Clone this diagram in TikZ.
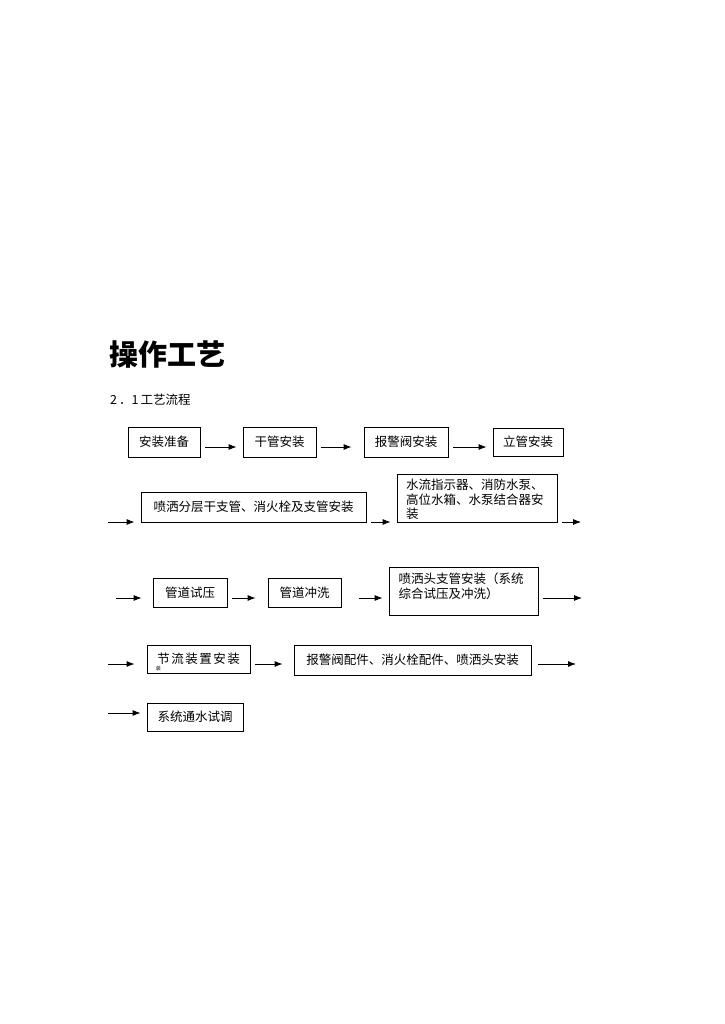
\documentclass[tikz,border=0pt]{standalone}
\usepackage{fontspec}
\newfontfamily\cjk{Noto Sans CJK SC}
\usetikzlibrary{arrows.meta}

\tikzset{
  box/.style = {draw, line width=0.8pt, inner sep=0pt,
                font=\cjk\fontsize{12.5}{14.5}\selectfont},
  flow/.style = {-{Latex[length=8pt,width=6pt]}, line width=0.8pt,
                 shorten <=5pt, shorten >=6pt},
}

\begin{document}
\begin{tikzpicture}[x=1pt, y=-1pt]

\useasboundingbox (0,0) rectangle (724,1024);

\node[anchor=west, font=\cjk\bfseries\fontsize{29}{32}\selectfont, inner sep=0pt]
    (title) at (109,355) {操作工艺};
\node[anchor=west, font=\cjk\fontsize{12.5}{14}\selectfont, inner sep=0pt]
    (sub) at (110,400) {2\,．1\,工艺流程};

% row 1
\coordinate (r1) at (0,447);
\node[box, minimum width=72, minimum height=30] (s1) at (164,442) {安装准备};
\node[box, minimum width=73, minimum height=30] (s2) at (279.5,442) {干管安装};
\node[box, minimum width=84, minimum height=30] (s3) at (406,442) {报警阀安装};
\node[box, minimum width=70, minimum height=28] (s4) at (528,442) {立管安装};
\draw[flow] (s1.east |- r1) -- (s2.west |- r1);
\draw[flow, shorten >=12pt] (s2.east |- r1) -- (s3.west |- r1);
\draw[flow] (s3.east |- r1) -- (s4.west |- r1);

% row 2
\coordinate (r2) at (0,522);
\coordinate (in2) at (108,522);
\coordinate (out2) at (581,522);
\node[box, minimum width=225, minimum height=30] (s5) at (253.5,507)
    {喷洒分层干支管、消火栓及支管安装};
\node[box, minimum width=160, minimum height=48, text width=142, align=left]
    (s6) at (477,498) {\rule{0pt}{14pt}水流指示器、消防水泵、\\高位水箱、水泵结合器安\\装};
\draw[flow, shorten <=0pt] (in2) -- (s5.west |- r2);
\draw[flow] (s5.east |- r2) -- (s6.west |- r2);
\draw[flow, shorten >=0pt] (s6.east |- r2) -- (out2);

% row 3
\coordinate (r3) at (0,598);
\coordinate (in3) at (116,598);
\coordinate (out3) at (582,598);
\node[box, minimum width=74, minimum height=29] (s7) at (190,592.5) {管道试压};
\node[box, minimum width=73, minimum height=29] (s8) at (304.5,592.5) {管道冲洗};
\node[box, minimum width=149, minimum height=48, text width=130, align=left]
    (s9) at (463.5,591) {喷洒头支管安装（系统\\综合试压及冲洗）\\[-8pt] \strut};
\draw[flow, shorten <=0pt, shorten >=11pt] (in3) -- (s7.west |- r3);
\draw[flow, shorten >=12pt] (s7.east |- r3) -- (s8.west |- r3);
\draw[flow, shorten <=18pt] (s8.east |- r3) -- (s9.west |- r3);
\draw[flow, shorten >=0pt] (s9.east |- r3) -- (out3);

% row 4
\coordinate (r4) at (0,664);
\coordinate (in4) at (108,664);
\coordinate (out4) at (576,664);
\node[box, minimum width=103, minimum height=28] (s10) at (198.5,659)
    {\addfontfeature{LetterSpace=12}节流装置安装};
\node[anchor=west, font=\cjk\fontsize{5}{5}\selectfont, inner sep=0pt]
    (s10note) at ([shift={(9,-5)}]s10.south west) {装};
\node[box, minimum width=237, minimum height=30] (s11) at (412.5,660)
    {报警阀配件、消火栓配件、喷洒头安装};
\draw[flow, shorten <=0pt, shorten >=12pt] (in4) -- (s10.west |- r4);
\draw[flow, shorten >=11pt] (s10.east |- r4) -- (s11.west |- r4);
\draw[flow, shorten >=0pt, shorten <=7pt] (s11.east |- r4) -- (out4);

% row 5
\coordinate (r5) at (0,713);
\coordinate (in5) at (108,713);
\node[box, minimum width=96, minimum height=28] (s12) at (195,717) {系统通水试调};
\draw[flow, shorten <=0pt] (in5) -- (s12.west |- r5);

\end{tikzpicture}
\end{document}
